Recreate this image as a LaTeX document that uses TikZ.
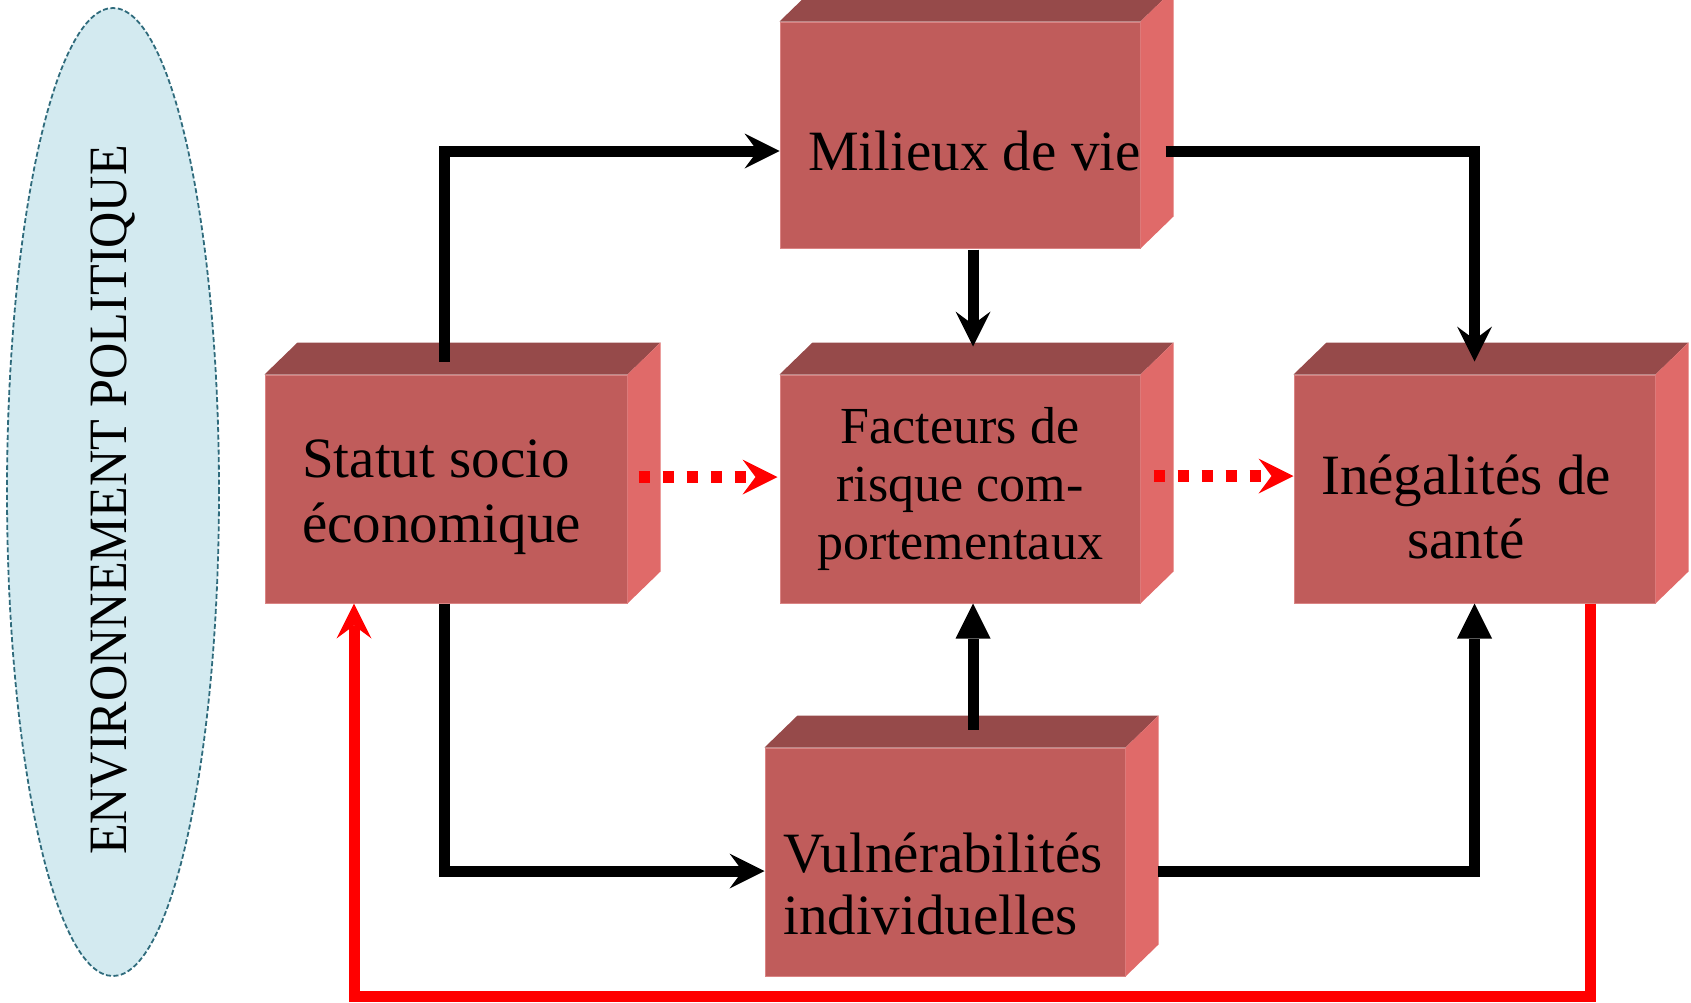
\documentclass[tikz,border=0pt]{standalone}
\usepackage{fontspec}
\setmainfont{Liberation Serif}
\usetikzlibrary{arrows.meta,calc,shapes.geometric}

\definecolor{slabfront}{RGB}{192,92,91}
\definecolor{slabtop}{RGB}{150,74,74}
\definecolor{slabside}{RGB}{224,106,105}
\definecolor{slabedge}{RGB}{218,132,132}
\definecolor{envfill}{RGB}{211,234,240}
\definecolor{envline}{RGB}{47,107,124}
\definecolor{linkred}{RGB}{255,0,0}

\tikzset{
  slab/.style={rectangle, fill=slabfront, draw=slabedge, line width=1pt,
    inner sep=0pt, minimum width=360pt, minimum height=228pt},
  slabtext/.style={inner sep=0pt, text width=345pt},
  link/.style={line width=11pt,
    -{Stealth[length=35pt,width=35pt,inset=13pt,line width=0pt]}},
  linktri/.style={line width=11pt,
    -{Triangle[length=35pt,width=35pt,line width=0pt]}},
  feedback/.style={link, draw=linkred},
  dotlink/.style={draw=linkred, line width=11.7pt,
    dash pattern=on 11.7pt off 12.3pt,
    -{Stealth[length=35pt,width=35pt,inset=13pt,line width=0pt]}},
}

% side and top faces of a box
\newcommand\drawslabfaces[1]{%
  \fill[slabtop] (#1.north west) -- ++(33,-32) -- ($(#1.north east)+(33,-32)$)
    -- (#1.north east) -- cycle;
  \fill[slabside] (#1.north east) -- ++(33,-32) -- ($(#1.south east)+(33,-32)$)
    -- (#1.south east) -- cycle;
}

\begin{document}
\begin{tikzpicture}[x=1pt,y=-1pt]
\useasboundingbox (0,0) rectangle (1691,1002);

% political environment
\node[ellipse, fill=envfill, draw=envline, line width=1.8pt,
      dash pattern=on 5pt off 2.5pt, inner sep=0pt,
      minimum width=212pt, minimum height=968pt] (env) at (113,492) {};
\node[rotate=90, anchor=base, inner sep=0pt, font=\fontsize{54}{60}\selectfont]
      (envtext) at (126,500) {\scalebox{0.93}[1]{ENVIRONNEMENT POLITIQUE}};

% boxes (front faces)
\node[slab, minimum width=360pt, minimum height=226pt] (milieux) at (960,135) {};
\node[slab, minimum width=362pt] (statut) at (446,489) {};
\node[slab] (facteurs) at (960,489) {};
\node[slab, minimum width=361pt] (inegal) at (1474.5,489) {};
\node[slab] (vuln) at (945,862) {};

\drawslabfaces{milieux}
\drawslabfaces{statut}
\drawslabfaces{facteurs}
\drawslabfaces{inegal}
\drawslabfaces{vuln}

% box labels
\node[slabtext, anchor=base west, align=flush left, font=\fontsize{57}{65}\selectfont]
  (milieux-t) at (808,170) {Milieux de vie};
\node[slabtext, anchor=base west, align=flush left, font=\fontsize{57}{65}\selectfont]
  (statut-t) at (302,477) {Statut socio\\économique};
\node[slabtext, anchor=base, align=flush center, font=\fontsize{52}{58}\selectfont]
  (facteurs-t) at (960,443) {Facteurs de\\risque com-\\portementaux};
\node[slabtext, anchor=base, align=flush center, font=\fontsize{57}{64}\selectfont]
  (inegal-t) at (1466,494) {Inégalités de\\santé};
\node[slabtext, anchor=base west, align=flush left, font=\fontsize{57}{62}\selectfont]
  (vuln-t) at (783,872) {Vulnérabilités\\individuelles};

% connectors
\draw[link] ($(statut.north)+(-2,-13)$) |- ($(milieux.west)+(0,16)$);
\draw[link] ($(milieux.east)+(25,16)$) -| ($(inegal.north)+(0,-13)$);
\draw[link] ($(milieux.south)+(13,1)$) -- ($(facteurs.north)+(13,-28)$);
\draw[linktri] ($(vuln.north)+(28,-18)$) -- ($(facteurs.south)+(13,0)$);
\draw[link] ($(statut.south)+(-2,0)$) |- ($(vuln.west)+(0,9)$);
\draw[linktri] ($(vuln.east)+(32,9)$) -| (inegal.south);
\draw[feedback] ($(inegal.south east)+(-65,0)$) -- ++(0,393)
  -| ($(statut.south)+(-92,0)$);
\draw[dotlink] ($(statut.east)+(11,-12)$) -- ($(facteurs.west)+(-2,-12)$);
\draw[dotlink] ($(facteurs.east)+(13,-13)$) -- ($(inegal.west)+(0,-13)$);
\end{tikzpicture}
\end{document}
